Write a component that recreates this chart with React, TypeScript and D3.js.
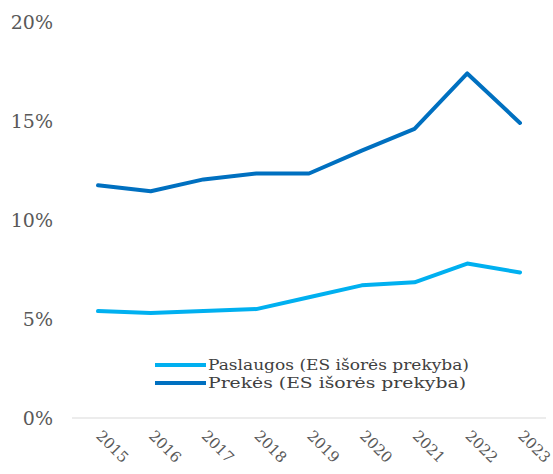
import React from "react";
import * as d3 from "d3";

const years = ["2015", "2016", "2017", "2018", "2019", "2020", "2021", "2022", "2023"];
const paslaugos = [5.4, 5.3, 5.4, 5.5, 6.1, 6.7, 6.85, 7.8, 7.35];
const prekes = [11.75, 11.45, 12.05, 12.35, 12.35, 13.5, 14.6, 17.4, 14.9];
const yTicks = [0, 5, 10, 15, 20];

const series = [
  { name: "Paslaugos (ES išorės prekyba)", values: paslaugos, color: "#00B0F0", len: 261 },
  { name: "Prekės (ES išorės prekyba)", values: prekes, color: "#0070C0", len: 258 },
];

const width = 553;
const height = 474;
const font = "'DejaVu Serif', serif";

export default function App() {
  const x = d3.scalePoint<string>().domain(years).range([98, 520]);
  const y = d3.scaleLinear().domain([0, 20]).range([418, 22]);

  const line = d3
    .line<number>()
    .x((d, i) => x(years[i]) as number)
    .y(d => y(d));

  return (
    <svg
      width={width}
      height={height}
      style={{ position: "absolute", left: 0, top: 0, background: "#fff", fontFamily: font }}
    >
      <line x1={72} x2={546} y1={y(0)} y2={y(0)} stroke="#d9d9d9" strokeWidth={1} />
      {yTicks.map(t => (
        <text
          key={t}
          x={53}
          y={y(t)}
          dy="0.36em"
          textAnchor="end"
          fontSize={19}
          fill="#595959"
        >
          {t}%
        </text>
      ))}
      {years.map(yr => (
        <text
          key={yr}
          transform={`translate(${(x(yr) as number) + 1},${433}) rotate(45)`}
          fontSize={15}
          fill="#595959"
          dy="0.35em"
        >
          {yr}
        </text>
      ))}
      {series.map(s => (
        <path
          key={s.name}
          d={line(s.values) || ""}
          fill="none"
          stroke={s.color}
          strokeWidth={4}
          strokeLinejoin="round"
          strokeLinecap="round"
        />
      ))}
      {series.map((s, i) => (
        <g key={s.name} transform={`translate(155,${365 + i * 18})`}>
          <line x1={0} x2={51} y1={0} y2={0} stroke={s.color} strokeWidth={4} />
          <text
            x={53}
            y={0}
            dy="0.33em"
            fontSize={15}
            fill="#404040"
            textLength={s.len}
            lengthAdjust="spacingAndGlyphs"
          >
            {s.name}
          </text>
        </g>
      ))}
    </svg>
  );
}
